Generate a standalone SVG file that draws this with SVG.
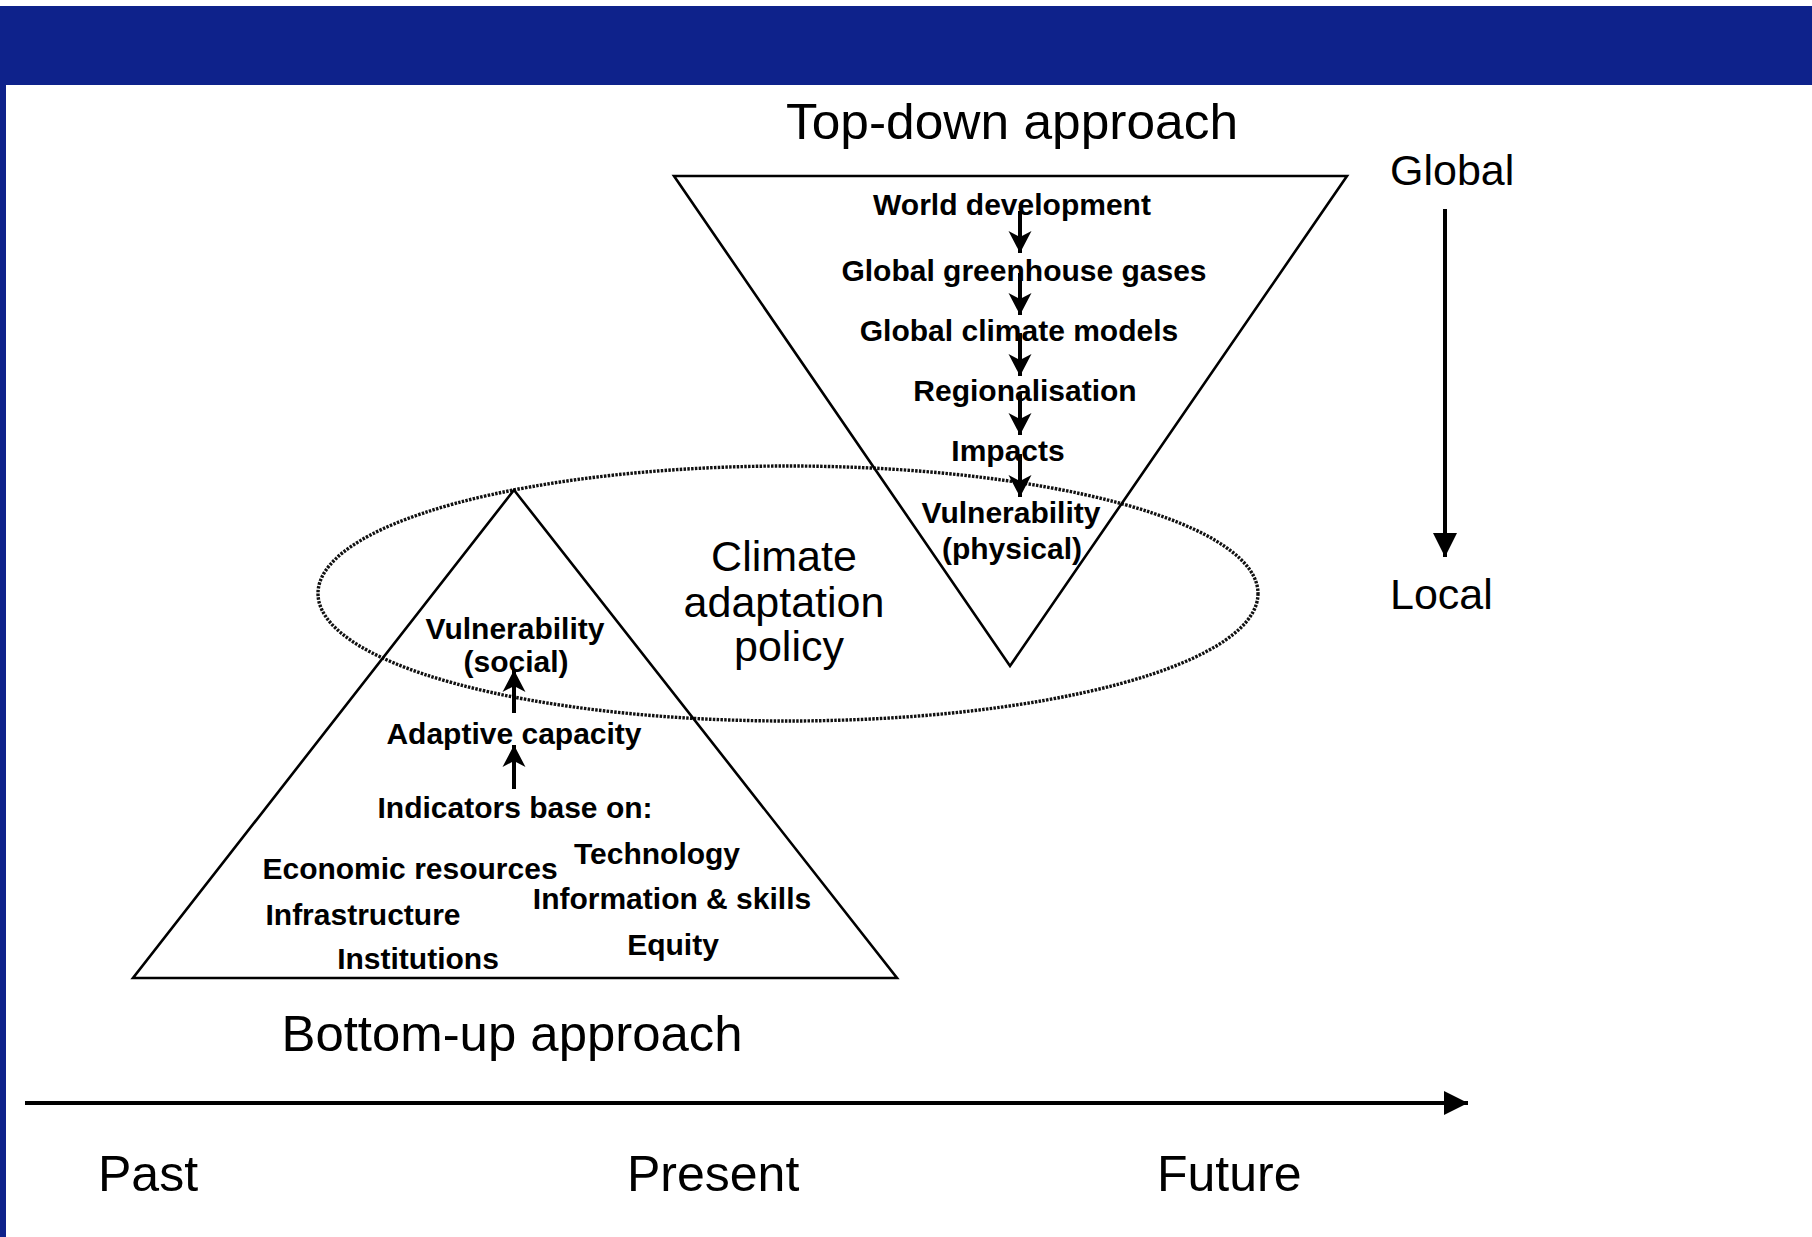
<svg xmlns="http://www.w3.org/2000/svg" width="1812" height="1237" viewBox="0 0 1812 1237">
<defs>
<style>
.big{font-family:"Liberation Sans",Arial,sans-serif;font-size:50px;fill:#000}
.mid{font-family:"Liberation Sans",Arial,sans-serif;font-size:43px;fill:#000}
.sm{font-family:"Liberation Sans",Arial,sans-serif;font-size:30px;font-weight:bold;fill:#000;text-anchor:middle}
.tri{fill:none;stroke:#000;stroke-width:2.6}
.flow{stroke:#000;stroke-width:4;fill:none}
.axis{stroke:#000;stroke-width:4;fill:none}
</style>
<marker id="small" markerUnits="userSpaceOnUse" viewBox="-24 -13 26 26" refX="0" refY="0" markerWidth="26" markerHeight="26" orient="auto" overflow="visible">
<path d="M0,0 L-22,-11.5 L-16,0 L-22,11.5 Z" fill="#000"/>
</marker>
<marker id="bigh" markerUnits="userSpaceOnUse" viewBox="-30 -16 32 32" refX="0" refY="0" markerWidth="32" markerHeight="32" orient="auto" overflow="visible">
<path d="M0,0 L-24,-12 L-24,12 Z" fill="#000"/>
</marker>
</defs>
<rect x="0" y="0" width="1812" height="1237" fill="#fff"/>
<g id="frame">
<rect x="0" y="6" width="1812" height="79" fill="#0e228b"/>
<rect x="0" y="6" width="6" height="1231" fill="#0e228b"/>
</g>
<g id="policy-ellipse">
<ellipse cx="788" cy="593.5" rx="470" ry="127.5" fill="none" stroke="#111" stroke-width="3.4" stroke-dasharray="2.5 1.3"/>
</g>
<g id="top-down">
<polygon class="tri" points="674,176 1347,176 1010,666"/>
<text class="big" x="1012" y="139" text-anchor="middle" textLength="452" lengthAdjust="spacingAndGlyphs">Top-down approach</text>
<text class="sm" x="1012" y="215">World development</text>
<text class="sm" x="1024" y="281">Global greenhouse gases</text>
<text class="sm" x="1019" y="341">Global climate models</text>
<text class="sm" x="1025" y="401">Regionalisation</text>
<text class="sm" x="1008" y="461">Impacts</text>
<text class="sm" x="1011" y="523">Vulnerability</text>
<text class="sm" x="1012" y="559">(physical)</text>
</g>
<g id="bottom-up">
<polygon class="tri" points="514,490 133,978 897,978"/>
<text class="big" x="512" y="1051" text-anchor="middle" textLength="461" lengthAdjust="spacingAndGlyphs">Bottom-up approach</text>
<text class="sm" x="515" y="639">Vulnerability</text>
<text class="sm" x="516" y="672">(social)</text>
<text class="sm" x="514" y="744">Adaptive capacity</text>
<text class="sm" x="515" y="818">Indicators base on:</text>
<text class="sm" x="410" y="879">Economic resources</text>
<text class="sm" x="657" y="864">Technology</text>
<text class="sm" x="363" y="925">Infrastructure</text>
<text class="sm" x="672" y="909">Information &amp; skills</text>
<text class="sm" x="418" y="969">Institutions</text>
<text class="sm" x="673" y="955">Equity</text>
</g>
<g id="policy-label">
<text class="mid" x="784" y="571" text-anchor="middle">Climate</text>
<text class="mid" x="784" y="617" text-anchor="middle">adaptation</text>
<text class="mid" x="789" y="661" text-anchor="middle">policy</text>
</g>
<g id="scale-labels">
<text class="mid" x="1390" y="185">Global</text>
<text class="mid" x="1390" y="609">Local</text>
<text class="big" x="98" y="1191">Past</text>
<text class="big" x="627" y="1191">Present</text>
<text class="big" x="1157" y="1191">Future</text>
</g>
<g id="connectors">
<line class="flow" x1="1020" y1="211" x2="1020" y2="253" marker-end="url(#small)"/>
<line class="flow" x1="1020" y1="273" x2="1020" y2="315" marker-end="url(#small)"/>
<line class="flow" x1="1020" y1="333" x2="1020" y2="376" marker-end="url(#small)"/>
<line class="flow" x1="1020" y1="393" x2="1020" y2="435" marker-end="url(#small)"/>
<line class="flow" x1="1020" y1="454" x2="1020" y2="497" marker-end="url(#small)"/>
<line class="flow" x1="514" y1="713" x2="514" y2="670" marker-end="url(#small)"/>
<line class="flow" x1="514" y1="789" x2="514" y2="745" marker-end="url(#small)"/>
<line class="axis" x1="1445" y1="209" x2="1445" y2="557" marker-end="url(#bigh)"/>
<line class="axis" x1="25" y1="1103" x2="1468" y2="1103" marker-end="url(#bigh)"/>
</g>
</svg>
